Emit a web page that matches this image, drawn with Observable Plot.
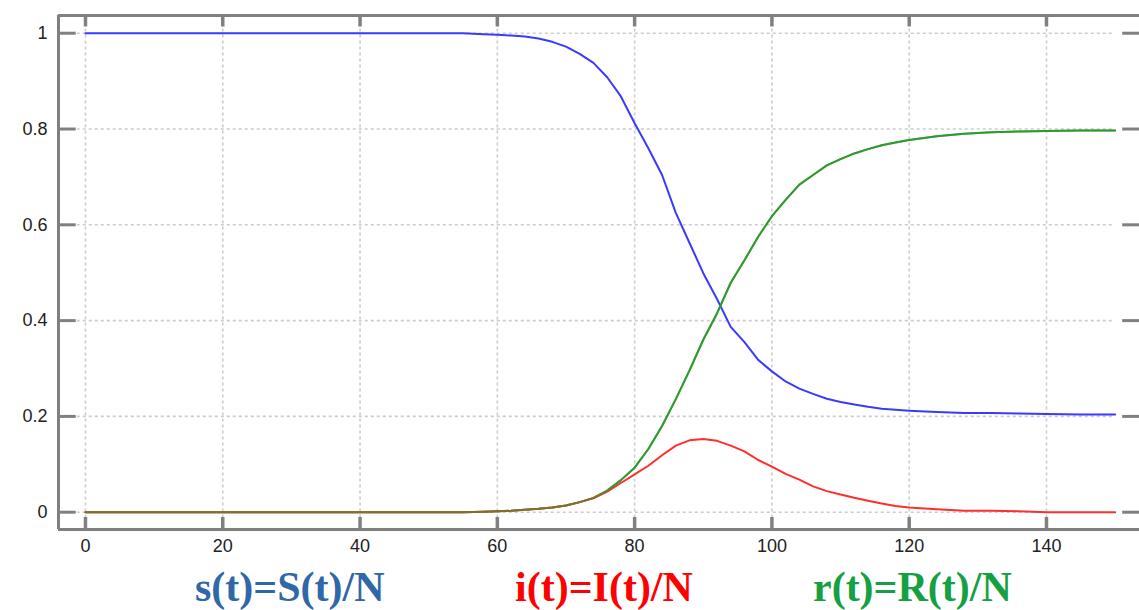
<!DOCTYPE html>
<html>
<head>
<meta charset="utf-8">
<script src="https://cdn.jsdelivr.net/npm/d3@7"></script>
<script src="https://cdn.jsdelivr.net/npm/@observablehq/plot@0.6"></script>
<style>
  html, body { margin: 0; padding: 0; background: #fff; }
  #wrap { position: relative; width: 1139px; height: 610px; overflow: hidden; }
  #chart svg { display: block; overflow: visible; }
  .lbl { position: absolute; top: 566px; font-family: "Liberation Serif", "Times New Roman", serif;
         font-weight: bold; font-size: 42px; line-height: 42px; white-space: nowrap; }
</style>
</head>
<body>
<div id="wrap">
  <div id="chart"></div>
  <div class="lbl" style="left:195px;color:#2f67a7">s(t)=S(t)/N</div>
  <div class="lbl" style="left:515px;color:#ff0000">i(t)=I(t)/N</div>
  <div class="lbl" style="left:813px;color:#14a043">r(t)=R(t)/N</div>
</div>
<script>
// time points (days)
const t = [0, 10, 20, 30, 40, 50, 55, 58, 60, 62, 64, 66, 68, 70, 72, 74, 76, 78, 80, 82, 84, 86, 88, 90, 92, 94, 96, 98, 100, 102, 104, 106, 108, 110, 112, 114, 116, 118, 120, 124, 128, 132, 136, 140, 145, 150];
// susceptible fraction s(t)
const sVals = [1, 1, 1, 1, 1, 1, 1, 0.998, 0.997, 0.995, 0.993, 0.989, 0.982, 0.972, 0.957, 0.938, 0.908, 0.868, 0.812, 0.760, 0.704, 0.625, 0.562, 0.499, 0.445, 0.387, 0.355, 0.318, 0.294, 0.273, 0.258, 0.247, 0.237, 0.230, 0.225, 0.220, 0.216, 0.214, 0.212, 0.209, 0.207, 0.207, 0.206, 0.205, 0.204, 0.204];
// infected fraction i(t)
const iVals = [0, 0, 0, 0, 0, 0, 0, 0.001, 0.002, 0.003, 0.005, 0.007, 0.010, 0.014, 0.021, 0.029, 0.043, 0.061, 0.079, 0.097, 0.119, 0.139, 0.150, 0.153, 0.149, 0.139, 0.127, 0.109, 0.095, 0.080, 0.068, 0.054, 0.044, 0.037, 0.030, 0.024, 0.018, 0.013, 0.010, 0.006, 0.003, 0.003, 0.002, 0.000, 0, 0];
// recovered fraction r(t)
const rVals = [0, 0, 0, 0, 0, 0, 0, 0.001, 0.002, 0.003, 0.005, 0.007, 0.010, 0.014, 0.021, 0.030, 0.045, 0.067, 0.093, 0.132, 0.180, 0.236, 0.296, 0.360, 0.415, 0.479, 0.526, 0.575, 0.618, 0.652, 0.684, 0.704, 0.724, 0.737, 0.749, 0.758, 0.766, 0.772, 0.777, 0.785, 0.790, 0.793, 0.795, 0.796, 0.797, 0.797];

const xTicks = [0, 20, 40, 60, 80, 100, 120, 140];
const yTicks = [0, 0.2, 0.4, 0.6, 0.8, 1];
const yTickLabels = ["0", "0.2", "0.4", "0.6", "0.8", "1"];

const sData = t.map((d, k) => ({t: d, v: sVals[k]}));
const iData = t.map((d, k) => ({t: d, v: iVals[k]}));
const rData = t.map((d, k) => ({t: d, v: rVals[k]}));

const X0 = -3.93, X1 = 153.55, Y0 = -0.0361, Y1 = 1.037;
const frameC = "#808080", gridC = "#cccccc";

const chart = Plot.plot({
  width: 1139,
  height: 565,
  marginLeft: 58,
  marginRight: 0,
  marginTop: 15,
  marginBottom: 36,
  style: {fontFamily: "'Liberation Sans', Arial, sans-serif", fontSize: "18px", color: "#222", background: "#fff"},
  x: {domain: [X0, X1], axis: null},
  y: {domain: [Y0, Y1], axis: null},
  marks: [
    // grid
    Plot.ruleY(yTicks, {y: d => d, x1: -1.2, x2: 149.6, stroke: gridC, strokeWidth: 1.6, strokeDasharray: "3,3"}),
    Plot.ruleX(xTicks, {x: d => d, y1: -0.012, y2: 1.013, stroke: gridC, strokeWidth: 1.6, strokeDasharray: "3,3"}),
    // frame
    Plot.ruleX([X0], {y1: Y0, y2: Y1, stroke: frameC, strokeWidth: 3}),
    Plot.ruleY([Y1], {x1: X0, x2: X1, stroke: frameC, strokeWidth: 3}),
    Plot.ruleY([Y0], {x1: X0, x2: X1, stroke: frameC, strokeWidth: 3}),
    // inward ticks
    Plot.ruleY(yTicks, {y: d => d, x1: X0, x2: -1.35, stroke: frameC, strokeWidth: 3}),
    Plot.ruleY(yTicks, {y: d => d, x1: 151.1, x2: X1, stroke: frameC, strokeWidth: 3}),
    Plot.ruleX(xTicks, {x: d => d, y1: Y1, y2: 1.013, stroke: frameC, strokeWidth: 3.5}),
    Plot.ruleX(xTicks, {x: d => d, y1: Y0, y2: -0.011, stroke: frameC, strokeWidth: 3.5}),
    // tick labels
    Plot.text(yTicks, {x: X0, y: d => d, text: (d, k) => yTickLabels[k], dx: -11, textAnchor: "end", fill: "#222", fontSize: 18}),
    Plot.text(xTicks, {x: d => d, y: Y0, text: d => String(d), dy: 17, fill: "#222", fontSize: 18}),
    // curves
    Plot.line(sData, {x: "t", y: "v", stroke: "#3a3aff", strokeWidth: 2}),
    Plot.line(rData, {x: "t", y: "v", stroke: "#2e9a2e", strokeWidth: 2}),
    Plot.line(iData, {x: "t", y: "v", stroke: "#ff2e2e", strokeWidth: 2}),
    Plot.line(rData, {x: "t", y: "v", stroke: "#2e9a2e", strokeWidth: 2, strokeOpacity: 0.6})
  ]
});
document.getElementById("chart").appendChild(chart);
</script>
</body>
</html>
